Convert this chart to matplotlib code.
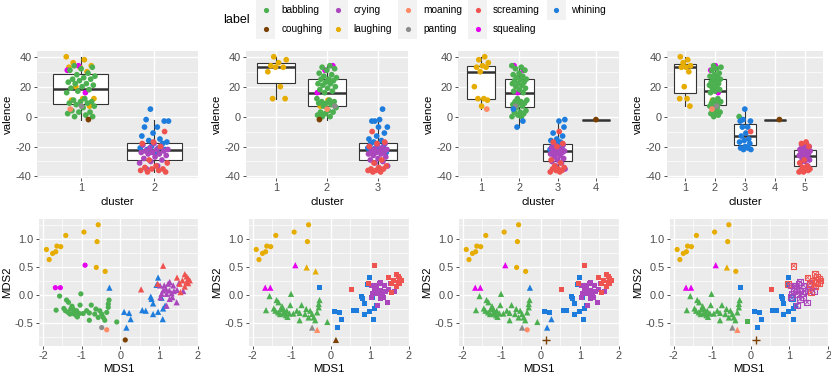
import numpy as np
import matplotlib
matplotlib.use("Agg")
import matplotlib.pyplot as plt
from matplotlib.patches import Rectangle

plt.rcParams['font.family'] = ['Liberation Sans', 'DejaVu Sans']
plt.rcParams['axes.unicode_minus'] = False

# label colours (legend order)
label_names = ['babbling', 'coughing', 'crying', 'laughing', 'moaning',
               'panting', 'screaming', 'squealing', 'whining']
label_colors = ['#4CAF50', '#7B3F00', '#AB47BC', '#E6AC00', '#FF8A65',
                '#8C8C8C', '#EF5350', '#E600F0', '#1E7DDC']

# one entry per recording, grouped by label
label = (['laughing'] * 12 + ['squealing'] * 3 + ['babbling'] * 36 +
         ['panting', 'moaning', 'coughing'] + ['whining'] * 18 +
         ['crying'] * 20 + ['screaming'] * 14)

mds1 = [-1.91, -1.84, -1.75, -1.67, -1.64, -1.54, -1.41, -0.94, -0.57, -0.60, -0.62, -0.39,
        -0.91, -1.68, -1.55,
        -1.57, -1.02, -1.66, -1.39, -1.34, -1.25, -1.04, -1.46, -1.42, -1.35, -1.30, -1.23,
        -1.18, -1.15, -1.11, -1.06, -1.22, -0.75, -0.80, -0.63, -0.66, -0.48, -0.44, -0.40,
        -0.80, -0.31, -0.29, -0.31, -0.53, -1.28, -1.13, -0.35, -0.57, -0.96, -0.87, -0.09,
        -0.48, -0.35, 0.13,
        -0.28, 0.27, 0.16, 0.10, 0.23, 0.98, 0.94, 0.79, 0.81, 0.85, 1.07, 0.57, 0.66, 0.85,
        0.98, 1.11, 1.16, 1.10,
        1.03, 1.14, 1.24, 1.28, 1.37, 1.18, 1.27, 1.11, 1.07, 1.20, 1.33, 1.39, 1.47, 1.63,
        1.35, 1.28, 1.46, 1.20, 1.04, 1.52,
        0.54, 1.11, 0.97, 1.47, 1.67, 1.72, 1.76, 1.80, 1.72, 1.61, 1.54, 1.67, 1.56, 1.76]

mds2 = [0.81, 0.63, 0.74, 0.77, 0.87, 0.86, 1.06, 1.12, 1.25, 0.95, 0.49, 0.42,
        0.53, 0.13, 0.13,
        -0.02, 0.02, -0.27, -0.09, -0.13, -0.20, -0.18, -0.24, -0.28, -0.31, -0.34, -0.33,
        -0.30, -0.36, -0.39, -0.33, -0.25, -0.18, -0.32, -0.25, -0.34, -0.34, -0.40, -0.45,
        -0.45, -0.22, -0.09, -0.16, -0.28, -0.25, -0.28, -0.31, -0.40, -0.33, -0.28, -0.48,
        -0.58, -0.62, -0.80,
        0.13, -0.43, -0.58, -0.30, -0.32, 0.31, 0.18, -0.03, -0.07, -0.15, -0.05, -0.27, -0.28,
        -0.34, -0.30, -0.24, -0.19, -0.43,
        0.17, 0.17, 0.20, 0.23, 0.17, 0.11, 0.08, 0.08, 0.02, 0.02, 0.03, 0.07, 0.09, 0.07,
        -0.04, -0.07, -0.13, -0.19, -0.04, 0.21,
        0.10, 0.52, 0.20, 0.31, 0.37, 0.33, 0.29, 0.26, 0.23, 0.26, 0.20, 0.15, 0.05, 0.21]

valence = [40, 38, 36, 34, 33, 33, 30, 20, 12, 12, 11, 7,
           34, 31, 16,
           34, 33, 32, 31, 29, 28, 27, 26, 25, 25, 24, 23, 22, 22, 21, 20, 19, 18,
           17, 16, 12, 11, 10, 10, 9, 9, 8, 7, 6, 4, 3, 3, 2, 1, 0, 0,
           7, 5, -2,
           5, -3, -7, -2, -3, -11, -13, -15, -16, -17, -24, -7, -18, -20, -21, -21, -22, -22,
           -18, -19, -20, -21, -22, -22, -23, -23, -24, -24, -25, -25, -26, -27, -28, -29,
           -30, -31, -33, -35,
           -10, -17, -18, -20, -29, -31, -33, -34, -35, -35, -36, -36, -37, -37]

# cluster assignment for k = 2..5
k2 = [1] * 54 + [2] * 52
k3 = [1] * 10 + [2] * 44 + [3] * 52
k4 = ([1] * 12 + [2] * 3 + [2] * 36 + [2, 1, 4] + [2, 2, 2] + [3] * 15 +
      [3] * 20 + [3] * 14)
k5 = ([1] * 10 + [2, 1] + [2] * 3 + [2] * 35 + [3] + [2, 2, 4] +
      [3] * 10 + [5] + [3] * 7 + [5] * 20 + [3] + [5] * 13)
clusterings = [k2, k3, k4, k5]

color_of = dict(zip(label_names, label_colors))
cols = np.array([color_of[l] for l in label])
x1 = np.array(mds1)
x2 = np.array(mds2)
val = np.array(valence)

fig = plt.figure(figsize=(8.31, 3.73), dpi=100)
W, H = 831.0, 373.0
PH = 126.7  # panel height in px

top_left = [37, 246, 458, 667]
top_width = [161, 162, 161, 156]
bot_left = [39.3, 249, 459, 670]
bot_width = [158.2, 160, 160, 158]
TICK_FS = 7.9
TITLE_FS = 8.2


def gg_axes(rect_px):
    l, t, w, h = rect_px
    ax = fig.add_axes([l / W, 1 - (t + h) / H, w / W, h / H])
    ax.set_facecolor('#EBEBEB')
    for s in ax.spines.values():
        s.set_visible(False)
    ax.set_axisbelow(True)
    ax.grid(True, which='major', color='white', lw=1.0)
    ax.grid(True, which='minor', color='white', lw=0.5)
    ax.tick_params(which='major', length=2.5, width=0.6, color='#333333',
                   labelsize=TICK_FS, labelcolor='#4D4D4D', pad=1.5)
    ax.tick_params(which='minor', length=0)
    return ax


def expand(lo, hi, f=0.05):
    r = hi - lo
    return lo - r * f, hi + r * f


n = len(val)
ylo, yhi = expand(val.min(), val.max())
for p, cl in enumerate(clusterings):
    cl = np.array(cl)
    k = cl.max()
    ax = gg_axes((top_left[p], 51, top_width[p], PH))
    groups = [val[cl == c] for c in range(1, k + 1)]
    ax.boxplot(groups, positions=range(1, k + 1), widths=0.75, patch_artist=True,
               showfliers=False, showcaps=False, whis=1.5,
               boxprops=dict(facecolor='white', edgecolor='#333333', lw=0.8),
               medianprops=dict(color='#333333', lw=1.8),
               whiskerprops=dict(color='#333333', lw=0.8))
    jit = ((np.arange(n) * 0.618034 + p * 0.37) % 1 - 0.5) * 0.4
    ax.scatter(cl + jit, val, c=cols, s=17, lw=0, zorder=3)
    ax.set_xlim(0.4, k + 0.6)
    ax.set_ylim(ylo, yhi)
    ax.set_xticks(range(1, k + 1))
    ax.set_xticklabels([str(c) for c in range(1, k + 1)])
    ax.set_yticks([-40, -20, 0, 20, 40])
    ax.set_yticks([-30, -10, 10, 30], minor=True)
    ax.tick_params(axis='x', pad=1.2)
    ax.set_xlabel('cluster', fontsize=TITLE_FS, va='center')
    ax.xaxis.set_label_coords(0.5, -(201.7 - 177.7) / PH)
    ax.set_ylabel('valence', fontsize=TITLE_FS, labelpad=2)

xlo, xhi = expand(x1.min(), x1.max())
y2lo, y2hi = expand(x2.min(), x2.max())
shape_kw = {1: dict(marker='o', s=14), 2: dict(marker='^', s=20),
            3: dict(marker='s', s=13), 4: dict(marker='+', s=36)}
for p, cl in enumerate(clusterings):
    cl = np.array(cl)
    ax = gg_axes((bot_left[p], 219, bot_width[p], PH))
    for c in range(1, 6):
        m = cl == c
        if not m.any():
            continue
        if c == 5:
            ax.scatter(x1[m], x2[m], marker='s', s=16, facecolors='none',
                       edgecolors=cols[m], lw=0.8, zorder=3)
            ax.scatter(x1[m], x2[m], marker='x', s=10, c=cols[m], lw=0.6, zorder=3)
        elif c == 4:
            ax.scatter(x1[m], x2[m], c=cols[m], lw=1.0, zorder=3, **shape_kw[c])
        else:
            ax.scatter(x1[m], x2[m], c=cols[m], lw=0, zorder=3, **shape_kw[c])
    ax.set_xlim(xlo, xhi)
    ax.set_ylim(y2lo, y2hi)
    ax.set_xticks([-2, -1, 0, 1, 2])
    ax.set_xticks([-1.5, -0.5, 0.5, 1.5], minor=True)
    ax.set_yticks([-0.5, 0.0, 0.5, 1.0])
    ax.set_yticklabels(['-0.5', '0.0', '0.5', '1.0'])
    ax.set_yticks([-0.75, -0.25, 0.25, 0.75, 1.25], minor=True)
    ax.tick_params(axis='x', pad=1.6)
    ax.set_xlabel('MDS1', fontsize=TITLE_FS, va='center')
    ax.xaxis.set_label_coords(0.5, -(368.6 - 345.7) / PH)
    ax.set_ylabel('MDS2', fontsize=TITLE_FS, labelpad=2)

# legend drawn in pixel space
lg = fig.add_axes([0, 0, 1, 1], zorder=5)
lg.set_xlim(0, W)
lg.set_ylim(H, 0)
lg.axis('off')
lg.patch.set_alpha(0)
key_x = [265.7, 338, 407.7, 477.7, 556]
row_y = [10, 29.3]
lg.text(223, 20, 'label', fontsize=9, va='center', ha='left')
for i, (name, col) in enumerate(zip(label_names, label_colors)):
    cx = key_x[i // 2]
    cy = row_y[i % 2]
    lg.add_patch(Rectangle((cx - 9.5, cy - 9.6), 19, 19.2, facecolor='#F2F2F2',
                           edgecolor='none'))
    lg.scatter([cx], [cy], c=col, s=14, lw=0)
    lg.text(cx + 15.5, cy, name, fontsize=7.3, va='center', ha='left')

fig.savefig('out.png', dpi=100)
